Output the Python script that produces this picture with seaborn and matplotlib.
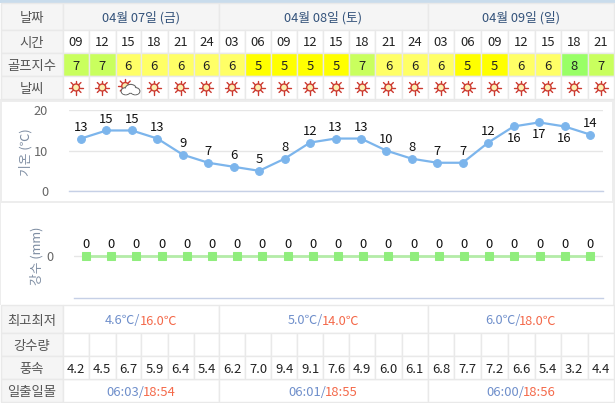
import matplotlib
matplotlib.use("Agg")
import numpy as np
import pandas as pd
import seaborn as sns
import matplotlib.pyplot as plt
from matplotlib.patches import Rectangle, Circle, Ellipse

sns.set_theme(style="white")
plt.rcParams["font.family"] = ["Noto Sans CJK KR", "DejaVu Sans"]

# Forecast values
day_labels = ["04월 07일 (금)", "04월 08일 (토)", "04월 09일 (일)"]
hours = ["09", "12", "15", "18", "21", "24", "03", "06", "09", "12", "15",
         "18", "21", "24", "03", "06", "09", "12", "15", "18", "21"]
golf_index = [7, 7, 6, 6, 6, 6, 6, 5, 5, 5, 5, 7, 6, 6, 6, 5, 5, 6, 6, 8, 7]
temperature = [13, 15, 15, 13, 9, 7, 6, 5, 8, 12, 13, 13, 10, 8, 7, 7, 12, 16, 17, 16, 14]
rainfall = [0] * 21
wind_speed = ["4.2", "4.5", "6.7", "5.9", "6.4", "5.4", "6.2", "7.0", "9.4", "9.1", "7.6",
              "4.9", "6.0", "6.1", "6.8", "7.7", "7.2", "6.6", "5.4", "3.2", "4.4"]
temp_low = ["4.6℃/", "5.0℃/", "6.0℃/"]
temp_high = ["16.0℃", "14.0℃", "18.0℃"]
sunrise = ["06:03/", "06:01/", "06:00/"]
sunset = ["18:54", "18:55", "18:56"]
cloudy_slots = [2]

# Page layout in pixels
W, H = 615, 403
col_edges = [63, 89, 115.5, 141, 167.5, 193.5, 219, 245, 271, 297, 323.3, 349.3, 375.3,
             401.5, 427.5, 454.3, 480.7, 507.7, 534.7, 560.7, 587.7, 614]
day_edges = [(63, 219), (219, 427.5), (427.5, 614)]
LINE = "#e9e9e9"
HEAD = "#f5f5f5"
LABEL = "#555555"
COOL = "#6f8fcb"
WARM = "#f4694a"
index_colors = {5: "#ffff00", 6: "#ffff66", 7: "#c9ff5e", 8: "#99ff66"}

fig = plt.figure(figsize=(W / 100, H / 100), dpi=100, facecolor="white")
page = fig.add_axes([0, 0, 1, 1])
page.set_xlim(0, W)
page.set_ylim(H, 0)
page.axis("off")


def box(x0, y0, x1, y1, face="white", edge=LINE, lw=1.0, z=1):
    page.add_patch(Rectangle((x0, y0), x1 - x0, y1 - y0, facecolor=face,
                             edgecolor=edge, linewidth=lw, zorder=z))


def put(x, y, s, color="#222222", size=9.4, weight="normal", **kw):
    kw.setdefault("ha", "center")
    return page.text(x, y, s, color=color, fontsize=size, fontweight=weight,
                     va="center_baseline", zorder=6, **kw)


def two_tone(x0, x1, y, left, right, size=9.4, tuck=1.0):
    # Centre a two-coloured string inside a cell
    renderer = fig.canvas.get_renderer()
    a = put(0, y, left, COOL, size, ha="left")
    b = put(0, y, right, WARM, size, ha="left")
    inv = page.transData.inverted()
    wa = inv.transform((a.get_window_extent(renderer).width, 0))[0] - inv.transform((0, 0))[0]
    wb = inv.transform((b.get_window_extent(renderer).width, 0))[0] - inv.transform((0, 0))[0]
    wa -= tuck
    start = (x0 + x1 - wa - wb) / 2
    a.set_x(start)
    b.set_x(start + wa)


def sun(cx, cy):
    for ang in np.arange(0, 2 * np.pi, np.pi / 4):
        page.plot([cx + 3.5 * np.cos(ang), cx + 7 * np.cos(ang)],
                  [cy + 3.5 * np.sin(ang), cy + 7 * np.sin(ang)],
                  color="#cc3a30", lw=1.0, solid_capstyle="round", zorder=4)
    page.add_patch(Circle((cx, cy), 3.5, facecolor="#fbeeb0", edgecolor="#cc3a30", lw=1.0, zorder=5))


def cloud(cx, cy):
    for dx, dy, rx, ry in [(-4.5, 1.2, 4.6, 3.6), (0.5, -1.2, 5.5, 4.4), (5, 1.2, 4.6, 3.6)]:
        page.add_patch(Ellipse((cx + dx, cy + dy), 2 * rx, 2 * ry, facecolor="white",
                               edgecolor="#666666", lw=0.8, zorder=5))
    for dx, dy, rx, ry in [(-4.5, 1.4, 3.9, 2.9), (0.5, -0.9, 4.8, 3.7), (5, 1.4, 3.9, 2.9)]:
        page.add_patch(Ellipse((cx + dx, cy + dy), 2 * rx, 2 * ry, facecolor="white",
                               edgecolor="none", zorder=5.1))


# Pale strip along the top and the page background
page.add_patch(Rectangle((0, 0), W, 3, facecolor="#c9dcec", edgecolor="none", zorder=0))
page.add_patch(Rectangle((0, 3), W, H - 3, facecolor="white", edgecolor="none", zorder=0))

rows = {"day": (3, 30), "hour": (30, 53), "index": (53, 76), "sky": (76, 99),
        "temp": (305, 333), "rain": (333, 356), "wind": (356, 379), "sun": (379, 402)}
row_titles = {"day": "날짜", "hour": "시간", "index": "골프지수", "sky": "날씨",
              "temp": "최고최저", "rain": "강수량", "wind": "풍속", "sun": "일출일몰"}
for key, (y0, y1) in rows.items():
    box(1, y0, 63, y1, face=HEAD)
    put(32, (y0 + y1) / 2, row_titles[key], LABEL, 9.6, "medium")

# Per-day rows
for (x0, x1), label, lo, hi, rise, dusk in zip(day_edges, day_labels, temp_low, temp_high, sunrise, sunset):
    box(x0, *rows["day"][:1], x1, rows["day"][1], face=HEAD)
    put((x0 + x1) / 2, 16.5, label, "#33527a", 9.2, "medium")
    box(x0, rows["temp"][0], x1, rows["temp"][1])
    two_tone(x0, x1, 319.5, lo, hi, size=9.2)
    box(x0, rows["sun"][0], x1, rows["sun"][1])
    two_tone(x0, x1, 391, rise, dusk, size=9.4)

# Per-slot rows
for i in range(len(hours)):
    x0, x1 = col_edges[i], col_edges[i + 1]
    cx = (x0 + x1) / 2
    box(x0, 30, x1, 53)
    put(cx, 41.5, hours[i])
    box(x0, 53, x1, 76, face=index_colors[golf_index[i]])
    put(cx, 64.5, str(golf_index[i]))
    box(x0, 76, x1, 99)
    if i in cloudy_slots:
        sun(cx - 3, 86)
        cloud(cx + 2, 90)
    else:
        sun(cx, 87.5)
    box(x0, 333, x1, 356)
    box(x0, 356, x1, 379)
    put(cx, 368, wind_speed[i])

# Panels behind the two charts
page.add_patch(Rectangle((0, 99), W, 206, facecolor="#ededed", edgecolor="none", zorder=0.5))
page.add_patch(Rectangle((2, 102), 610, 99, facecolor="white", edgecolor="none", zorder=0.6))
page.add_patch(Rectangle((1, 203), 612, 102, facecolor="white", edgecolor="none", zorder=0.6))


def chart_axes(x0, y_top, x1, y_bottom, first, last):
    ax = fig.add_axes([x0 / W, 1 - y_bottom / H, (x1 - x0) / W, (y_bottom - y_top) / H])
    ax.patch.set_alpha(0)
    # Slot index runs from the first point to the last point in pixels
    step = (last - first) / 20
    ax.set_xlim((x0 - first) / step, (x1 - first) / step)
    ax.set_xticks([])
    ax.set_xlabel("")
    for side in ("top", "left", "right"):
        ax.spines[side].set_visible(False)
    ax.spines["bottom"].set_color("#c6d0e6")
    ax.spines["bottom"].set_linewidth(1)
    ax.tick_params(axis="y", length=0, labelsize=9.2, labelcolor="#666666", pad=0)
    return ax


weather = pd.DataFrame({"slot": range(21), "temperature": temperature, "rainfall": rainfall})

# Temperature line
ax_t = chart_axes(69, 110.3, 603, 191, 81, 590)
sns.lineplot(data=weather, x="slot", y="temperature", ax=ax_t, color="#7cb5ec", lw=1.6,
             marker="o", markersize=5.6, markeredgecolor="#7cb5ec", clip_on=False)
ax_t.set_ylim(0, 20)
ax_t.set_yticks([0, 10, 20])
ax_t.yaxis.grid(True, color="#e6e6e6", lw=1)
ax_t.set_axisbelow(True)
ax_t.set_xlabel("")
ax_t.set_ylabel("")
ax_t.tick_params(axis="y", pad=15)
below = {17, 18, 19}
for i, v in enumerate(temperature):
    ax_t.annotate(str(v), (i, v), xytext=(0, -8.5 if i in below else 7.8), textcoords="offset points",
                  ha="center", va="center", fontsize=9.4, fontweight="medium", color="#111111",
                  annotation_clip=False, zorder=7)
put(24, 152, "기온 (℃)", "#7f8ea3", 9.2, rotation=90, rotation_mode="anchor")

# Rainfall line
ax_r = chart_axes(74, 214.5, 603, 297.5, 86, 590)
sns.lineplot(data=weather, x="slot", y="rainfall", ax=ax_r, color="#b4eca8", lw=2.0,
             marker="s", markersize=6.0, markerfacecolor="#90ed7d", markeredgecolor="#90ed7d",
             clip_on=False)
ax_r.set_ylim(-1, 1)
ax_r.set_yticks([0])
ax_r.yaxis.grid(True, color="#e6e6e6", lw=1)
ax_r.set_axisbelow(True)
ax_r.set_xlabel("")
ax_r.set_ylabel("")
ax_r.tick_params(axis="y", pad=15)
for i, v in enumerate(rainfall):
    ax_r.annotate(str(v), (i, v), xytext=(0, 8.6), textcoords="offset points", ha="center",
                  va="center", fontsize=9.4, fontweight="medium", color="#111111",
                  annotation_clip=False, zorder=7)
put(35, 255.5, "강수 (mm)", "#7f8ea3", 9.2, rotation=90, rotation_mode="anchor")

fig.savefig("out.png", dpi=100)
